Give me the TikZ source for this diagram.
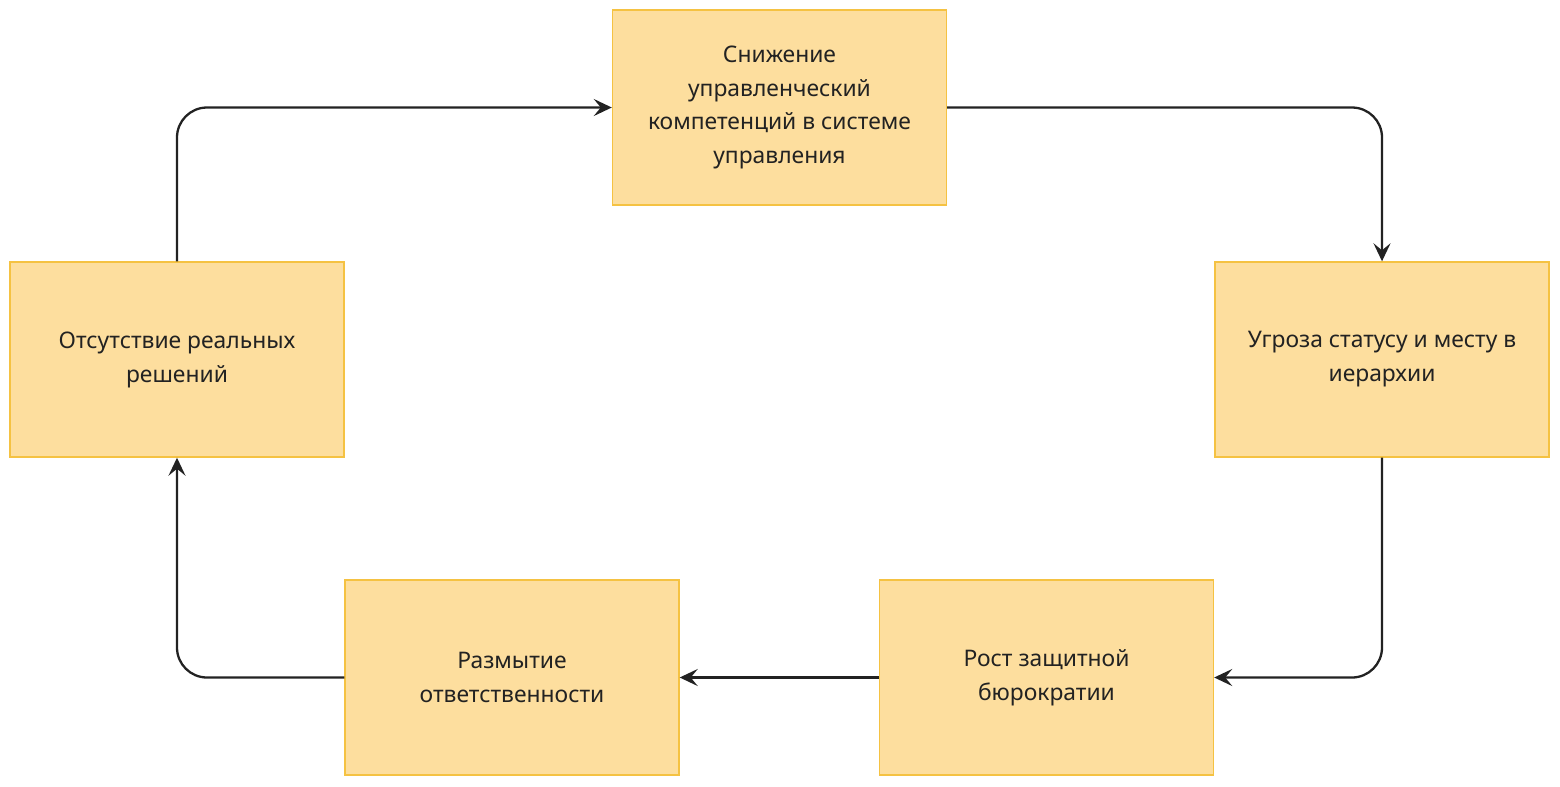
\documentclass[tikz,border=0pt]{standalone}
\usepackage{fontspec}
\setmainfont{Noto Sans}
\usetikzlibrary{arrows.meta, positioning}
\definecolor{boxfill}{HTML}{FDDE9E}
\definecolor{boxdraw}{HTML}{F5C242}
\definecolor{lineink}{HTML}{222222}

\begin{document}
\begin{tikzpicture}[
    stage/.style={rectangle, draw=boxdraw, fill=boxfill, line width=0.8pt, minimum width=6.68cm, minimum height=3.9cm, align=center, text=lineink, font=\fontsize{13pt}{19.3pt}\selectfont},
    arrow/.style={-{Stealth[length=3.6mm, width=3.4mm, inset=1.4mm]}, line width=1.3pt, color=lineink, rounded corners=0.6cm}
]
\useasboundingbox (0,0) rectangle (31.2,-15.72);

% Stages of the cycle
\node[stage] (drop) at (15.59,-2.15) {Снижение\\управленческий\\компетенций в системе\\управления};
\node[stage] (threat) at (27.64,-7.19) {Угроза статусу и месту в\\иерархии};
\node[stage] (bureau) at (20.93,-13.55) {Рост защитной\\бюрократии};
\node[stage] (blur) at (10.24,-13.55) {Размытие\\ответственности};
\node[stage] (nodecide) at (3.54,-7.19) {Отсутствие реальных\\решений};

% Arrows
\draw[arrow] (drop.east) -| (threat.north);
\draw[arrow] (threat.south) |- (bureau.east);
\draw[arrow] (bureau.west) -- (blur.east);
\draw[arrow] (blur.west) -| (nodecide.south);
\draw[arrow] (nodecide.north) |- (drop.west);

\end{tikzpicture}
\end{document}
